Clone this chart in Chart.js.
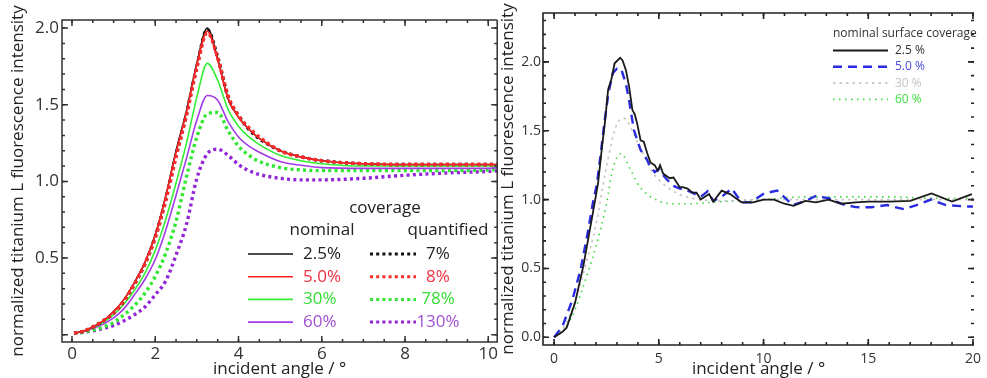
<!DOCTYPE html>
<html>
<head>
<meta charset="utf-8">
<script src="https://cdn.jsdelivr.net/npm/chart.js@4.4.1/dist/chart.umd.min.js"></script>
<style>
  html, body { margin: 0; padding: 0; background: #fff; }
  .wrap { position: relative; width: 987px; height: 378px; overflow: hidden; }
  .panel { position: absolute; top: 0; }
  #left { left: 0; }
  #right { left: 500px; }
</style>
</head>
<body>
<div class="wrap">
  <div class="panel" id="left"><canvas id="chartLeft" width="500" height="378"></canvas></div>
  <div class="panel" id="right"><canvas id="chartRight" width="487" height="378"></canvas></div>
</div>
<script>
// ---- left panel: calculated curves, one angle grid for all ----
const simAngles = [0.05, 0.25, 0.5, 0.75, 1, 1.25, 1.5, 1.75, 2, 2.25, 2.5, 2.75, 3, 3.25, 3.5, 3.75, 4, 4.25, 4.5, 5, 5.5, 6, 7, 8, 9, 10, 10.3];
const nom25 = [0.01, 0.02, 0.05, 0.09, 0.15, 0.23, 0.34, 0.47, 0.65, 0.90, 1.20, 1.46, 1.77, 2.00, 1.80, 1.54, 1.42, 1.34, 1.28, 1.20, 1.16, 1.135, 1.115, 1.11, 1.11, 1.11, 1.11];
const nom50 = [0.01, 0.02, 0.05, 0.09, 0.15, 0.23, 0.34, 0.47, 0.65, 0.90, 1.19, 1.45, 1.76, 1.98, 1.79, 1.54, 1.42, 1.34, 1.28, 1.20, 1.16, 1.135, 1.115, 1.11, 1.11, 1.11, 1.11];
const nom30 = [0.01, 0.02, 0.045, 0.08, 0.13, 0.20, 0.29, 0.40, 0.55, 0.75, 0.99, 1.25, 1.55, 1.77, 1.66, 1.47, 1.36, 1.29, 1.24, 1.17, 1.135, 1.115, 1.10, 1.10, 1.10, 1.10, 1.10];
const nom60 = [0.01, 0.02, 0.04, 0.07, 0.11, 0.17, 0.26, 0.36, 0.49, 0.68, 0.91, 1.15, 1.40, 1.56, 1.53, 1.39, 1.29, 1.23, 1.19, 1.13, 1.105, 1.09, 1.085, 1.085, 1.085, 1.085, 1.09];
const quant7 = [0.01, 0.02, 0.05, 0.09, 0.14, 0.22, 0.33, 0.46, 0.64, 0.88, 1.17, 1.44, 1.75, 1.99, 1.81, 1.55, 1.43, 1.34, 1.28, 1.20, 1.16, 1.135, 1.115, 1.11, 1.11, 1.11, 1.11];
const quant8 = [0.01, 0.02, 0.05, 0.09, 0.14, 0.22, 0.33, 0.46, 0.63, 0.87, 1.16, 1.43, 1.74, 1.97, 1.81, 1.56, 1.43, 1.35, 1.29, 1.20, 1.16, 1.135, 1.115, 1.11, 1.11, 1.11, 1.11];
const quant78 = [0.01, 0.015, 0.03, 0.05, 0.08, 0.13, 0.19, 0.27, 0.38, 0.53, 0.74, 1.03, 1.29, 1.44, 1.45, 1.33, 1.23, 1.17, 1.13, 1.09, 1.075, 1.07, 1.07, 1.07, 1.07, 1.075, 1.08];
const quant130 = [0.01, 0.015, 0.025, 0.04, 0.06, 0.09, 0.13, 0.18, 0.26, 0.35, 0.52, 0.72, 1.02, 1.18, 1.21, 1.17, 1.11, 1.07, 1.045, 1.02, 1.01, 1.01, 1.02, 1.04, 1.055, 1.065, 1.07];

const nominalLabels = ['2.5%', '5.0%', '30%', '60%'];
const quantifiedLabels = ['7%', '8%', '78%', '130%'];
const leftXTicks = [0, 2, 4, 6, 8, 10];
const leftYTicks = [0.5, 1.0, 1.5, 2.0];

// ---- right panel: measured curves ----
const measAngles25 = [0, 0.4, 0.6, 1.0, 1.4, 1.8, 2.1, 2.3, 2.42, 2.58, 2.73, 2.89, 3.15, 3.27, 3.43, 3.58, 3.74, 3.85, 3.97, 4.13, 4.28, 4.44, 4.6, 4.8, 4.95, 5.06, 5.2, 5.52, 5.7, 5.83, 6.0, 6.14, 6.37, 6.6, 6.8, 7.0, 7.2, 7.4, 7.6, 8.0, 8.4, 8.95, 9.5, 10.0, 10.5, 11.0, 11.43, 12.0, 12.5, 13.1, 13.7, 14.4, 15.0, 16.0, 17.0, 18.02, 19.0, 19.95];
const meas25 = [0, 0.04, 0.07, 0.25, 0.52, 0.86, 1.12, 1.40, 1.55, 1.80, 1.87, 1.99, 2.03, 2.01, 1.94, 1.82, 1.65, 1.62, 1.55, 1.43, 1.42, 1.34, 1.27, 1.25, 1.21, 1.25, 1.19, 1.155, 1.16, 1.13, 1.09, 1.09, 1.08, 1.05, 1.05, 1.00, 1.02, 1.04, 0.985, 1.065, 1.04, 0.98, 0.98, 1.00, 1.00, 0.97, 0.955, 0.99, 0.98, 1.00, 0.97, 0.98, 0.985, 0.985, 0.99, 1.045, 0.985, 1.04];
const measAngles50 = [0, 0.4, 0.87, 1.26, 1.57, 1.88, 2.03, 2.2, 2.42, 2.6, 2.81, 3.0, 3.2, 3.43, 3.58, 3.81, 4.13, 4.4, 4.59, 4.8, 5.0, 5.3, 5.67, 6.0, 6.3, 6.6, 7.0, 7.33, 7.6, 8.0, 8.48, 8.95, 9.4, 10.03, 10.65, 11.4, 12.0, 12.5, 13.1, 13.8, 14.4, 15.13, 15.9, 16.7, 17.3, 18.0, 18.7, 19.65, 20.0];
const meas50 = [0, 0.08, 0.27, 0.49, 0.73, 1.00, 1.10, 1.30, 1.58, 1.78, 1.92, 1.95, 1.95, 1.84, 1.72, 1.505, 1.36, 1.30, 1.24, 1.20, 1.22, 1.16, 1.10, 1.08, 1.07, 1.05, 1.02, 1.06, 0.99, 1.02, 1.08, 0.98, 0.98, 1.045, 1.065, 0.96, 0.99, 1.026, 1.01, 0.965, 0.945, 0.944, 0.96, 0.93, 0.96, 1.00, 0.96, 0.95, 0.95];
const measAngles30 = [0, 0.5, 1.0, 1.5, 2.0, 2.5, 3.0, 3.35, 3.7, 4.1, 4.7, 5.5, 6.3, 7, 8, 10, 12, 14, 16, 18, 20];
const meas30 = [0, 0.08, 0.26, 0.52, 0.82, 1.24, 1.55, 1.59, 1.51, 1.38, 1.20, 1.08, 1.02, 1.00, 0.99, 1.00, 1.00, 1.00, 1.00, 1.00, 1.00];
const measAngles60 = [0, 0.5, 1.0, 1.5, 2.0, 2.5, 2.8, 3.2, 3.6, 4.1, 5.0, 5.7, 6.5, 7.5, 8.5, 10, 12, 14, 16, 18, 20];
const meas60 = [0, 0.06, 0.20, 0.42, 0.66, 0.97, 1.22, 1.335, 1.23, 1.09, 0.99, 0.97, 0.97, 0.98, 0.99, 1.00, 1.02, 1.02, 1.02, 1.01, 1.01];

const surfaceLabels = ['2.5 %', '5.0 %', '30 %', '60 %'];
const rightXTicks = [0, 5, 10, 15, 20];
const rightYTicks = [0.0, 0.5, 1.0, 1.5, 2.0];

const FONT = "'Open Sans', sans-serif";
const pts = (xs, ys) => xs.map((x, i) => ({ x: x, y: ys[i] }));

// frame with inward ticks on all four sides
const frameTicks = {
  id: 'frameTicks',
  afterDatasetsDraw(chart, args, o) {
    const { ctx, chartArea: a } = chart;
    const xs = chart.scales.x, ys = chart.scales.y;
    ctx.save();
    ctx.strokeStyle = o.color;
    ctx.lineWidth = o.width;
    ctx.beginPath();
    ctx.moveTo(a.right, a.top);
    ctx.lineTo(a.left, a.top);
    ctx.lineTo(a.left, a.bottom);
    ctx.lineTo(a.right, a.bottom);
    if (o.rightLine) ctx.lineTo(a.right, a.top);
    ctx.stroke();

    const mark = (s, step, len, horiz) => {
      const i0 = Math.ceil(s.min / step - 1e-6), i1 = Math.floor(s.max / step + 1e-6);
      ctx.beginPath();
      for (let i = i0; i <= i1; i++) {
        const p = s.getPixelForValue(i * step);
        if (horiz) {
          ctx.moveTo(p, a.bottom); ctx.lineTo(p, a.bottom - len);
          ctx.moveTo(p, a.top); ctx.lineTo(p, a.top + len);
        } else {
          ctx.moveTo(a.left, p); ctx.lineTo(a.left + len, p);
          ctx.moveTo(a.right, p); ctx.lineTo(a.right - len, p);
        }
      }
      ctx.stroke();
    };
    mark(xs, o.xMinor, 3, true);
    mark(xs, o.xMajor, 6, true);
    mark(ys, o.yMinor, 3, false);
    mark(ys, o.yMajor, 6, false);
    ctx.restore();
  }
};

// two-column legend of the left panel
const coverageLegend = {
  id: 'coverageLegend',
  afterDraw(chart, args, o) {
    const ctx = chart.ctx;
    const ds = chart.data.datasets;
    ctx.save();
    ctx.font = `17px ${FONT}`;
    ctx.textBaseline = 'middle';
    ctx.fillStyle = '#222';
    ctx.textAlign = 'center';
    ctx.fillText('coverage', 385, 208);
    ctx.fillText('nominal', 322, 230);
    ctx.fillText('quantified', 448, 230);
    o.rows.forEach((r, i) => {
      const y = 254 + i * 22.7;
      const a = ds[r.nominal], b = ds[r.quantified];
      ctx.lineWidth = 1.6;
      ctx.setLineDash([]);
      ctx.strokeStyle = a.borderColor;
      ctx.beginPath(); ctx.moveTo(248, y); ctx.lineTo(293, y); ctx.stroke();
      ctx.lineWidth = 3;
      ctx.setLineDash([3, 3.2]);
      ctx.strokeStyle = b.borderColor;
      ctx.beginPath(); ctx.moveTo(370, y); ctx.lineTo(416, y); ctx.stroke();
      ctx.fillStyle = r.text;
      ctx.textAlign = 'left';
      ctx.fillText(nominalLabels[i], 303, y);
      ctx.textAlign = 'center';
      ctx.fillText(quantifiedLabels[i], 438, y);
    });
    ctx.restore();
  }
};

// legend of the right panel
const surfaceLegend = {
  id: 'surfaceLegend',
  afterDraw(chart, args, o) {
    const ctx = chart.ctx;
    const ds = chart.data.datasets;
    ctx.save();
    ctx.font = `12px ${FONT}`;
    ctx.textBaseline = 'middle';
    ctx.textAlign = 'left';
    ctx.fillStyle = '#333';
    ctx.fillText('nominal surface coverage', 333, 34);
    ds.forEach((d, i) => {
      const y = 50.5 + i * 16.3;
      ctx.strokeStyle = d.borderColor;
      ctx.lineWidth = d.borderWidth;
      ctx.setLineDash(d.borderDash || []);
      ctx.beginPath(); ctx.moveTo(333, y); ctx.lineTo(388, y); ctx.stroke();
      ctx.fillStyle = o.text[i];
      ctx.fillText(surfaceLabels[i], 395, y);
    });
    ctx.restore();
  }
};

const fixSize = (w, h) => (s) => {
  if (w !== undefined) s.width = w;
  if (h !== undefined) s.height = h;
};

const setTicks = (list) => (s) => { s.ticks = list.map(v => ({ value: v })); };

// ---------- left chart ----------
const solid = (data, color) => ({
  data: pts(simAngles, data), borderColor: color, borderWidth: 1.6,
  pointRadius: 0, cubicInterpolationMode: 'monotone', fill: false
});
const dotted = (data, color) => ({
  data: pts(simAngles, data), borderColor: color, borderWidth: 3.4,
  borderDash: [3, 3.3], pointRadius: 0, cubicInterpolationMode: 'monotone', fill: false
});

const leftSets = [
  dotted(quant8, '#ff2a2a'),
  solid(nom50, '#ff2020'),
  dotted(quant7, '#111111'),
  solid(nom25, '#111111'),
  solid(nom30, '#33ee33'),
  solid(nom60, '#a33be6'),
  dotted(quant78, '#2fe82f'),
  dotted(quant130, '#9226d6')
];

new Chart(document.getElementById('chartLeft'), {
  type: 'line',
  data: { datasets: leftSets },
  options: {
    responsive: false,
    animation: false,
    layout: { autoPadding: false, padding: { top: 20, right: 1, left: 0, bottom: 0 } },
    plugins: {
      legend: { display: false },
      tooltip: { enabled: false },
      frameTicks: { color: '#333', width: 1.5, rightLine: true, xMinor: 0.5, xMajor: 2, yMinor: 0.1, yMajor: 0.5 },
      coverageLegend: {
        rows: [
          { nominal: 3, quantified: 2, text: '#222' },
          { nominal: 1, quantified: 0, text: '#f03040' },
          { nominal: 4, quantified: 6, text: '#33dd33' },
          { nominal: 5, quantified: 7, text: '#a050d0' }
        ]
      }
    },
    scales: {
      x: {
        type: 'linear', min: -0.24, max: 10.215,
        grid: { display: false, drawTicks: false }, border: { display: false },
        afterBuildTicks: setTicks(leftXTicks),
        afterFit: fixSize(undefined, 36),
        ticks: { color: '#333', font: { family: FONT, size: 17 }, padding: 2, maxRotation: 0 },
        title: { display: true, text: 'incident angle / °', color: '#222', font: { family: FONT, size: 17 }, padding: { top: 0, bottom: -1 } }
      },
      y: {
        type: 'linear', min: -0.048, max: 2.053,
        grid: { display: false, drawTicks: false }, border: { display: false },
        afterBuildTicks: setTicks(leftYTicks),
        afterFit: fixSize(62, undefined),
        ticks: { color: '#333', font: { family: FONT, size: 17 }, padding: 3, callback: v => v.toFixed(1) },
        title: { display: true, text: 'normalized titanium L fluorescence intensity', color: '#222', font: { family: FONT, size: 17 }, padding: { top: 8, bottom: 0 } }
      }
    }
  },
  plugins: [frameTicks, coverageLegend]
});

// ---------- right chart ----------
new Chart(document.getElementById('chartRight'), {
  type: 'line',
  data: {
    datasets: [
      { data: pts(measAngles25, meas25), borderColor: '#1a1a1a', borderWidth: 1.8, pointRadius: 0, tension: 0, fill: false },
      { data: pts(measAngles50, meas50), borderColor: '#2a2ae0', borderWidth: 2.4, borderDash: [9, 6], pointRadius: 0, tension: 0, fill: false },
      { data: pts(measAngles30, meas30), borderColor: '#c4c4c4', borderWidth: 1.6, borderDash: [2.5, 4], pointRadius: 0, cubicInterpolationMode: 'monotone', fill: false },
      { data: pts(measAngles60, meas60), borderColor: '#3ad83a', borderWidth: 1.6, borderDash: [1.5, 4.5], pointRadius: 0, cubicInterpolationMode: 'monotone', fill: false }
    ]
  },
  options: {
    responsive: false,
    animation: false,
    layout: { autoPadding: false, padding: { top: 13, right: 2, left: 0, bottom: 0 } },
    plugins: {
      legend: { display: false },
      tooltip: { enabled: false },
      frameTicks: { color: '#222', width: 1.6, rightLine: false, xMinor: 1, xMajor: 5, yMinor: 0.1, yMajor: 0.5 },
      surfaceLegend: { text: ['#333', '#4a4ae0', '#c4c4c4', '#44e044'] }
    },
    scales: {
      x: {
        type: 'linear', min: -0.53, max: 20.05,
        grid: { display: false, drawTicks: false }, border: { display: false },
        afterBuildTicks: setTicks(rightXTicks),
        afterFit: fixSize(undefined, 33),
        ticks: { color: '#333', font: { family: FONT, size: 14 }, padding: 6, maxRotation: 0 },
        title: { display: true, text: 'incident angle / °', color: '#222', font: { family: FONT, size: 17 }, padding: { top: 0, bottom: -1 } }
      },
      y: {
        type: 'linear', min: -0.056, max: 2.355,
        grid: { display: false, drawTicks: false }, border: { display: false },
        afterBuildTicks: setTicks(rightYTicks),
        afterFit: fixSize(43, undefined),
        ticks: { color: '#333', font: { family: FONT, size: 14 }, padding: 2, callback: v => v.toFixed(1) },
        title: { display: true, text: 'normalized titanium L fluorescence intensity', color: '#222', font: { family: FONT, size: 17 }, padding: { top: -2, bottom: 0 } }
      }
    }
  },
  plugins: [frameTicks, surfaceLegend]
});
</script>
</body>
</html>
